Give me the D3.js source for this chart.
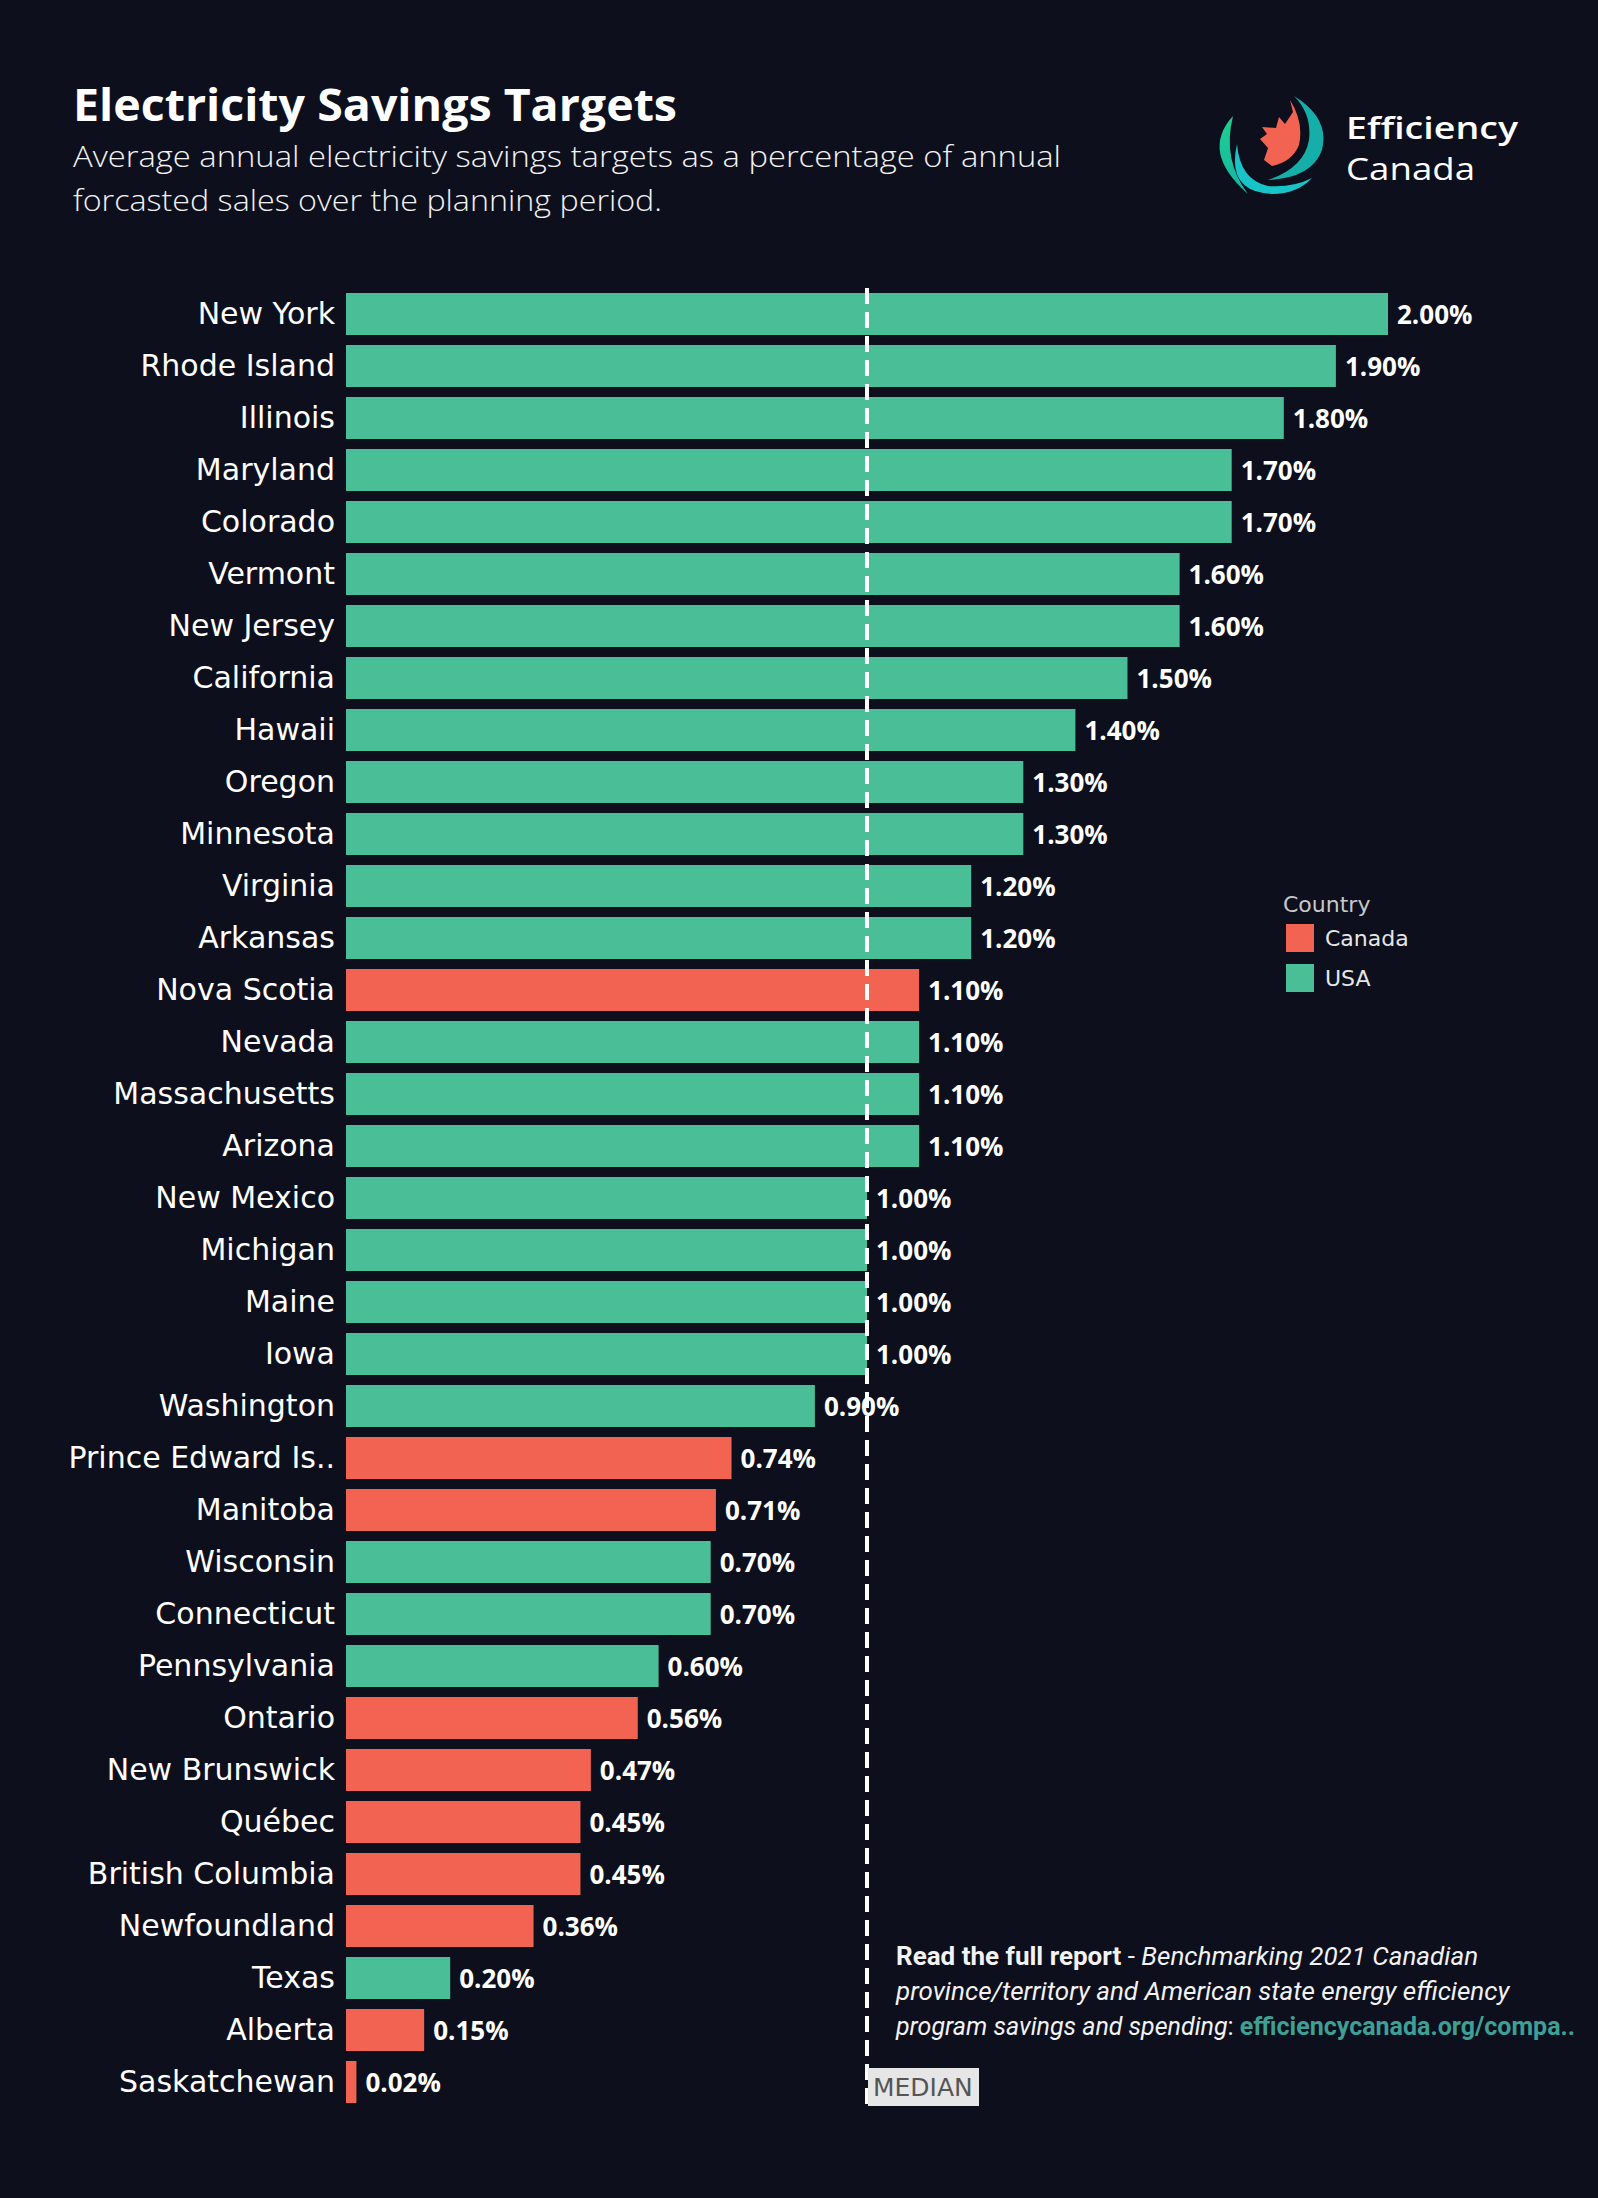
<!DOCTYPE html>
<html>
<head>
<meta charset="utf-8">
<script src="https://cdn.jsdelivr.net/npm/d3@7"></script>
<style>
  html, body { margin: 0; padding: 0; background: #0d0f1c; }
  svg { display: block; }
</style>
</head>
<body>
<svg id="chart" width="1598" height="2198"></svg>
<script>
// ---------------- DATA ----------------
const categories = [
  "New York", "Rhode Island", "Illinois", "Maryland", "Colorado", "Vermont",
  "New Jersey", "California", "Hawaii", "Oregon", "Minnesota", "Virginia",
  "Arkansas", "Nova Scotia", "Nevada", "Massachusetts", "Arizona", "New Mexico",
  "Michigan", "Maine", "Iowa", "Washington", "Prince Edward Is..", "Manitoba",
  "Wisconsin", "Connecticut", "Pennsylvania", "Ontario", "New Brunswick",
  "Québec", "British Columbia", "Newfoundland", "Texas", "Alberta", "Saskatchewan"
];
const values = [
  2.00, 1.90, 1.80, 1.70, 1.70, 1.60,
  1.60, 1.50, 1.40, 1.30, 1.30, 1.20,
  1.20, 1.10, 1.10, 1.10, 1.10, 1.00,
  1.00, 1.00, 1.00, 0.90, 0.74, 0.71,
  0.70, 0.70, 0.60, 0.56, 0.47,
  0.45, 0.45, 0.36, 0.20, 0.15, 0.02
];
const countries = [
  "USA", "USA", "USA", "USA", "USA", "USA",
  "USA", "USA", "USA", "USA", "USA", "USA",
  "USA", "Canada", "USA", "USA", "USA", "USA",
  "USA", "USA", "USA", "USA", "Canada", "Canada",
  "USA", "USA", "USA", "Canada", "Canada",
  "Canada", "Canada", "Canada", "USA", "Canada", "Canada"
];
const legendKeys = ["Canada", "USA"];
const medianValue = 1.00;
const xDomain = [0, 2];

// ---------------- STYLE ----------------
const BG = "#0d0f1c";
const colorScale = d3.scaleOrdinal().domain(legendKeys).range(["#f26451", "#4abe97"]);

const svg = d3.select("#chart");
svg.append("rect").attr("width", 1598).attr("height", 2198).attr("fill", BG);

const rows = categories.map((c, i) => ({ name: c, value: values[i], country: countries[i] }));

const x = d3.scaleLinear().domain(xDomain).range([346, 1388]);
const y = d3.scaleBand().domain(categories).range([288, 2108])
  .paddingInner(10 / 52).paddingOuter(5 / 52);

// Title & subtitle
svg.append("text")
  .attr("x", 73).attr("y", 121)
  .attr("fill", "#ffffff")
  .attr("font-family", "'Open Sans', sans-serif")
  .attr("font-weight", 700)
  .attr("font-size", 44)
  .attr("textLength", 604).attr("lengthAdjust", "spacingAndGlyphs")
  .text("Electricity Savings Targets");

const sub = ["Average annual electricity savings targets as a percentage of annual",
             "forcasted sales over the planning period."];
const subLens = [988, 589];
sub.forEach((s, i) => {
  svg.append("text")
    .attr("x", 73).attr("y", 167 + i * 44)
    .attr("fill", "#f2f2f2")
    .attr("font-family", "'Open Sans', sans-serif")
    .attr("font-weight", 300)
    .attr("font-size", 30)
    .attr("textLength", subLens[i]).attr("lengthAdjust", "spacingAndGlyphs")
    .text(s);
});

// Logo
const logo = svg.append("g");
const defs = svg.append("defs");
const grad = defs.append("linearGradient").attr("id", "lg1").attr("x1", 0).attr("y1", 0).attr("x2", 0).attr("y2", 1);
grad.append("stop").attr("offset", "0%").attr("stop-color", "#1fd08f");
grad.append("stop").attr("offset", "100%").attr("stop-color", "#14b6a6");
logo.append("path")
  .attr("d", "M 1233 116 Q 1200 152 1248 194 Q 1222 160 1233 116 Z")
  .attr("fill", "url(#lg1)");
logo.append("path")
  .attr("d", "M 1237 144 Q 1226 192 1272 194 Q 1297 194 1312 178 Q 1292 188 1268 186 Q 1240 180 1237 144 Z")
  .attr("fill", "#19c4c8");
logo.append("path")
  .attr("d", "M 1294 96 Q 1330 118 1322 150 Q 1312 178 1268 180 Q 1304 168 1309 140 Q 1312 114 1294 96 Z")
  .attr("fill", "#16aea8");
logo.append("path")
  .attr("d", "M 1290 100 L 1293 112 L 1285 124 L 1279 117 L 1276 128 L 1262 127 L 1267 134 L 1260 139 L 1268 148 L 1264 160 L 1272 166 Q 1292 162 1299 145 Q 1304 122 1290 100 Z")
  .attr("fill", "#f26451");
svg.append("text").attr("x", 1346).attr("y", 139)
  .attr("fill", "#ffffff").attr("font-family", "'Open Sans', sans-serif")
  .attr("font-weight", 600).attr("font-size", 31)
  .attr("textLength", 172).attr("lengthAdjust", "spacingAndGlyphs")
  .text("Efficiency");
svg.append("text").attr("x", 1346).attr("y", 180)
  .attr("fill", "#ffffff").attr("font-family", "'Open Sans', sans-serif")
  .attr("font-weight", 400).attr("font-size", 31)
  .attr("textLength", 129).attr("lengthAdjust", "spacingAndGlyphs")
  .text("Canada");

// Bars
svg.append("g").selectAll("rect").data(rows).join("rect")
  .attr("x", x(0))
  .attr("y", d => y(d.name))
  .attr("width", d => x(d.value) - x(0))
  .attr("height", y.bandwidth())
  .attr("fill", d => colorScale(d.country));

// Category axis
const yAxis = svg.append("g")
  .attr("transform", `translate(${x(0)},0)`)
  .call(d3.axisLeft(y).tickSize(0).tickPadding(11));
yAxis.select(".domain").remove();
yAxis.selectAll("text")
  .attr("fill", "#ffffff")
  .attr("font-family", "'DejaVu Sans', sans-serif")
  .attr("font-size", 30);

// Value labels
svg.append("g").selectAll("text").data(rows).join("text")
  .attr("x", d => x(d.value) + 9)
  .attr("y", d => y(d.name) + y.bandwidth() / 2 + 1)
  .attr("dy", "0.36em")
  .attr("fill", "#ffffff")
  .attr("font-family", "'Open Sans', sans-serif")
  .attr("font-weight", 700)
  .attr("font-size", 26)
  .text(d => d3.format(".2f")(d.value) + "%");

// Median line
svg.append("line")
  .attr("x1", x(medianValue)).attr("x2", x(medianValue))
  .attr("y1", 288).attr("y2", 2106)
  .attr("stroke", "#ffffff").attr("stroke-width", 4)
  .attr("stroke-dasharray", "16,8");
svg.append("rect")
  .attr("x", x(medianValue) + 1).attr("y", 2068)
  .attr("width", 111).attr("height", 38)
  .attr("fill", "#e6e6e6");
svg.append("text")
  .attr("x", x(medianValue) + 6).attr("y", 2096)
  .attr("fill", "#555555")
  .attr("font-family", "'DejaVu Sans', sans-serif")
  .attr("font-size", 25)
  .text("MEDIAN");

// Legend
const lg = svg.append("g");
lg.append("text").attr("x", 1283).attr("y", 912)
  .attr("fill", "#c8c8c8").attr("font-family", "'DejaVu Sans', sans-serif")
  .attr("font-size", 22).text("Country");
legendKeys.forEach((k, i) => {
  lg.append("rect").attr("x", 1286).attr("y", 924 + i * 40)
    .attr("width", 28).attr("height", 28).attr("fill", colorScale(k));
  lg.append("text").attr("x", 1325).attr("y", 946 + i * 40)
    .attr("fill", "#e6e6e6").attr("font-family", "'DejaVu Sans', sans-serif")
    .attr("font-size", 22).text(k);
});

// Footer note
const note = svg.append("g")
  .attr("font-family", "Roboto, sans-serif").attr("font-size", 26).attr("fill", "#f2f2f2");
const l1 = note.append("text").attr("x", 896).attr("y", 1965);
l1.append("tspan").attr("font-weight", 700).text("Read the full report");
l1.append("tspan").text(" - ");
l1.append("tspan").attr("font-style", "italic").text("Benchmarking 2021 Canadian");
note.append("text").attr("x", 896).attr("y", 2000)
  .attr("font-style", "italic")
  .text("province/territory and American state energy efficiency");
const l3 = note.append("text").attr("x", 896).attr("y", 2035).attr("font-size", 25);
l3.append("tspan").attr("font-style", "italic").text("program savings and spending");
l3.append("tspan").text(": ");
l3.append("tspan").attr("font-weight", 700).attr("fill", "#3e9f94").text("efficiencycanada.org/compa..");
</script>
</body>
</html>
